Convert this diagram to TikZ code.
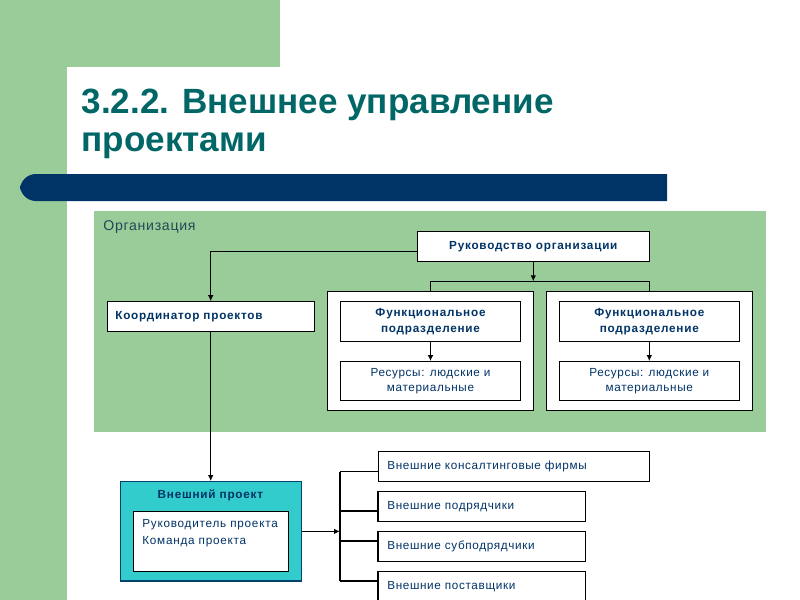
\documentclass[tikz,border=0pt]{standalone}
\usepackage{fontspec}
\setmainfont{Liberation Sans}
\newfontfamily\boxfont[LetterSpace=5.5]{Liberation Sans}
\newfontfamily\boxboldfont[LetterSpace=6.5]{Liberation Sans}
\newfontfamily\labelfont[LetterSpace=5]{Liberation Sans}
\usetikzlibrary{arrows.meta}

\definecolor{slidegreen}{RGB}{153,204,153}
\definecolor{barblue}{RGB}{0,51,102}
\definecolor{titleteal}{RGB}{0,102,102}
\definecolor{projteal}{RGB}{51,204,204}
\definecolor{boxnavy}{RGB}{0,51,102}
\definecolor{orglabel}{RGB}{31,73,85}

\begin{document}
\begin{tikzpicture}[x = 0.75pt, y = -0.75pt, line width = 0.9pt,
    >={Latex[length = 4.5pt, width = 4.2pt]},
    box/.style = {draw, fill = white, line width = 0.8pt, inner sep = 0pt, text = boxnavy},
    bold/.style = {font = \boxboldfont\bfseries\fontsize{8.8}{11.8}\selectfont},
    plain/.style = {font = \boxfont\fontsize{8.8}{11.3}\selectfont}]
        \useasboundingbox (0,0) rectangle (800,600);
        \fill[slidegreen] (0,0) rectangle (280,67);
        \fill[slidegreen] (0,0) rectangle (67,600);
        \fill[white, rounded corners = 18] (67,640) -- (67,67) -- (840,67) -- (840,640) -- cycle;
        \fill[barblue] (667,174) [rounded corners = 12] -- (20,174) -- (20,201)
                       [sharp corners] -- (667,201) -- cycle;
        \node[anchor = north west, inner sep = 0pt, align = left, text = titleteal,
              font = \bfseries\fontsize{26.3}{28.5}\selectfont] (title) at (81,88)
              {3.2.2. Внешнее управление\\проектами};

        \fill[slidegreen] (94,211) rectangle (766,432);
        \node[anchor = base west, inner sep = 0pt, text = orglabel,
              font = \labelfont\fontsize{10.6}{12}\selectfont] (org) at (102.7,230) {Организация};

        \node[box, bold, minimum width = 174pt, minimum height = 22pt] (ruk) at (533.3,246.4)
              {Руководство организации};
        \node[box, bold, minimum width = 155pt, minimum height = 22pt, text width = 143pt,
              align = left] (koord) at (210.7,316.4) {Координатор проектов};

        \node[box, minimum width = 154.5pt, minimum height = 89.3pt] (grpL) at (430.3,351.2) {};
        \node[box, minimum width = 154.5pt, minimum height = 89.3pt] (grpR) at (649.7,351.2) {};
        \node[box, bold, minimum width = 134.7pt, minimum height = 29.5pt, align = center]
              (funcL) at (430.5,321.4) {Функциональное\\подразделение};
        \node[box, plain, minimum width = 134.7pt, minimum height = 29.3pt, align = center]
              (resL) at (430.5,381.2) {Ресурсы: людские и\\материальные};
        \node[box, bold, minimum width = 134.7pt, minimum height = 29.5pt, align = center]
              (funcR) at (649.3,321.4) {Функциональное\\подразделение};
        \node[box, plain, minimum width = 134.7pt, minimum height = 29.3pt, align = center]
              (resR) at (649.3,381.2) {Ресурсы: людские и\\материальные};

        \coordinate (split) at (533.3,281.3);
        \draw[->] ([yshift = -3.8pt]ruk.west) -| (koord.north);
        \draw[->] (ruk.south) -- (split);
        \draw (grpL.north) |- (split) -| (grpR.north);
        \draw[->] (funcL) -- (resL);
        \draw[->] (funcR) -- (resR);

        \node[box, fill = projteal, draw = barblue!80!teal, line width = 1pt,
              minimum width = 135.8pt, minimum height = 74.5pt] (proj) at (211.2,531.4) {};
        \node[bold, text = boxnavy, inner sep = 0pt] (projtitle) at (210.4,495.2) {Внешний проект};
        \node[box, minimum width = 116.6pt, minimum height = 44.8pt] (team) at (211,541.2) {};
        \node[anchor = north west, inner sep = 0pt, align = left, text = boxnavy,
              font = \boxboldfont\fontsize{8.8}{12.2}\selectfont] (teamtext) at (141.7,519.3)
              {Руководитель проекта\\Команда проекта};
        \draw[->] (koord.south) -- (koord.south |- proj.north);

        \node[box, plain, minimum width = 203.5pt, minimum height = 22pt, text width = 189.5pt,
              align = left] (ext1) at (513.7,466.4) {Внешние консалтинговые фирмы};
        \node[box, plain, minimum width = 155.3pt, minimum height = 22pt, text width = 141.3pt,
              align = left] (ext2) at (481.5,506.4) {Внешние подрядчики};
        \node[box, plain, minimum width = 155.3pt, minimum height = 22pt, text width = 141.3pt,
              align = left] (ext3) at (481.5,546.4) {Внешние субподрядчики};
        \node[box, plain, minimum width = 155.3pt, minimum height = 22pt, text width = 141.3pt,
              align = left] (ext4) at (481.5,586.4) {Внешние поставщики};

        \coordinate (br1) at (340,471.7);
        \coordinate (br2) at (340,511);
        \coordinate (br3) at (340,541);
        \coordinate (br4) at (340,581);
        \draw (br1) -- (br4);
        \draw (br1) -- (br1 -| ext1.west);
        \draw (br2) -- (br2 -| ext2.west);
        \draw (br3) -- (br3 -| ext3.west);
        \draw (br4) -- (br4 -| ext4.west);
        \draw[->] (proj.east) -- (proj.east -| br1);
      \end{tikzpicture}
\end{document}
